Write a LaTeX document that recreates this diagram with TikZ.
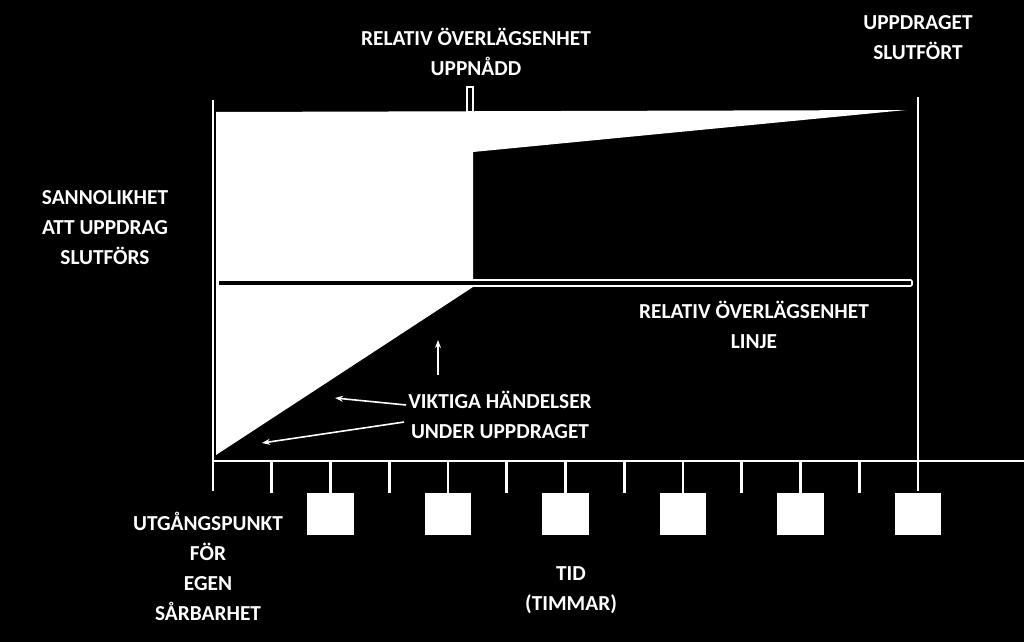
\documentclass[tikz,border=0pt]{standalone}
\usepackage{fontspec}
\setmainfont{Carlito}
\usetikzlibrary{arrows.meta}
\begin{document}
\begin{tikzpicture}[x=0.75pt, y=-0.75pt,
    lbl/.style={text=white, font=\bfseries\fontsize{16}{22.5}\selectfont, align=center, inner sep=0pt},
    wline/.style={draw=white, line width=2.2pt},
    tick/.style={white, line width=2pt},
    slot/.style={fill=white, draw=none, minimum width=35pt, minimum height=31pt, inner sep=0pt, anchor=north}]
  \fill[black] (0,0) rectangle (1024,642);
  \useasboundingbox (0,0) rectangle (1024,642);
  % probability area
  \fill[white] (216,112) -- (906,110) -- (473,152) -- (473,287) -- (216,455) -- cycle;
  \draw[white, line width=1.2pt, fill=black, rounded corners=1pt] (218,280) rectangle (912,286);
  \draw[white, line width=1.2pt, fill=black] (467,87) rectangle (473,112);
  % axes
  \draw[wline] (213,100) -- (213,491);
  \draw[wline] (918,97) -- (918,491);
  \draw[wline] (213,461) -- (1024,461);
  \foreach \i in {1,...,11}
    \draw[tick] (213+\i*58.75,461) -- (213+\i*58.75,493);
  \foreach \i in {2,4,...,12}
    \node[slot] (s\i) at (213+\i*58.75,493) {};
  % labels
  \node[lbl] (peak) at (476,52) {RELATIV ÖVERLÄGSENHET\\UPPNÅDD};
  \node[lbl] (done) at (918,38) {UPPDRAGET\\SLUTFÖRT};
  \node[lbl] (prob) at (105,228) {SANNOLIKHET\\ATT UPPDRAG\\SLUTFÖRS};
  \node[lbl] (line) at (754,325) {RELATIV ÖVERLÄGSENHET\\LINJE};
  \node[lbl] (events) at (500,415) {VIKTIGA HÄNDELSER\\UNDER UPPDRAGET};
  \node[lbl] (start) at (208,566) {UTGÅNGSPUNKT\\FÖR\\EGEN\\SÅRBARHET};
  \node[lbl] (time) at (571,590) {TID\\(TIMMAR)};
  \coordinate (a1) at (438,340);
  \coordinate (a2) at (335,398);
  \coordinate (a3) at (262,443);
  \draw[-{Stealth[length=6pt]}, white, line width=1.2pt] (438,375) -- (a1);
  \draw[-{Stealth[length=6pt]}, white, line width=1.2pt] (events.north west) ++(-2,14) -- (a2);
  \draw[-{Stealth[length=6pt]}, white, line width=1.2pt] (events.south west) ++(-4,-17) -- (a3);
\end{tikzpicture}
\end{document}
